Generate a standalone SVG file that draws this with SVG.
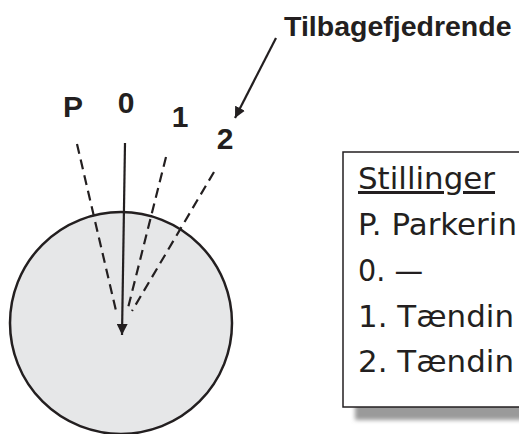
<svg xmlns="http://www.w3.org/2000/svg" width="519" height="434" viewBox="0 0 519 434">
<style>
.lbl{font-family:"Liberation Sans",Arial,sans-serif;font-weight:bold;font-size:30px;fill:#231f20;text-anchor:middle}
.title{font-family:"Liberation Sans",Arial,sans-serif;font-weight:bold;font-size:28.5px;fill:#231f20}
.box{font-family:"DejaVu Sans","Noto Sans",sans-serif;font-size:30px;fill:#231f20}
.dash{stroke:#231f20;stroke-width:2.2;stroke-dasharray:10,6;fill:none}
.solid{stroke:#231f20;stroke-width:2.2;fill:none}
</style>
<defs>
<marker id="ah" viewBox="0 0 10 10" refX="10" refY="5" markerWidth="5" markerHeight="5" orient="auto" markerUnits="strokeWidth">
<path d="M0,0 L10,5 L0,10 z" fill="#231f20"/>
</marker>
<filter id="blur" x="-10%" y="-10%" width="120%" height="120%">
<feGaussianBlur stdDeviation="2"/>
</filter>
</defs>
<rect width="519" height="434" fill="#ffffff"/>
<g id="dial">
<circle cx="121" cy="323" r="111" fill="#e6e7e8" stroke="#231f20" stroke-width="2.5"/>
</g>
<g id="connectors">
<line class="dash" x1="77" y1="144" x2="117" y2="315"/>
<line class="dash" x1="166" y1="157" x2="127" y2="312"/>
<line class="dash" x1="214" y1="172" x2="132" y2="311"/>
<line class="solid" x1="125" y1="143" x2="122" y2="335" marker-end="url(#ah)"/>
<line class="solid" x1="276" y1="38" x2="235" y2="118" marker-end="url(#ah)"/>
</g>
<g id="labels">
<text class="lbl" x="73" y="117">P</text>
<text class="lbl" x="126" y="113">0</text>
<text class="lbl" x="180" y="127">1</text>
<text class="lbl" x="225" y="149">2</text>
<text class="title" x="284" y="36">Tilbagefjedrende</text>
</g>
<g id="legend">
<rect x="355" y="165" width="200" height="255" fill="#9a9a9a" filter="url(#blur)"/>
<rect x="343" y="152" width="200" height="255" fill="#ffffff" stroke="#231f20" stroke-width="1.5"/>
<text class="box" x="358" y="189" text-decoration="underline" textLength="137" lengthAdjust="spacingAndGlyphs">Stillinger</text>
<text class="box" x="358" y="235" textLength="159" lengthAdjust="spacingAndGlyphs">P. Parkerin</text>
<text class="box" x="358" y="281" textLength="65" lengthAdjust="spacingAndGlyphs">0. —</text>
<text class="box" x="358" y="327" textLength="156" lengthAdjust="spacingAndGlyphs">1. Tændin</text>
<text class="box" x="358" y="372" textLength="156" lengthAdjust="spacingAndGlyphs">2. Tændin</text>
</g>
</svg>
